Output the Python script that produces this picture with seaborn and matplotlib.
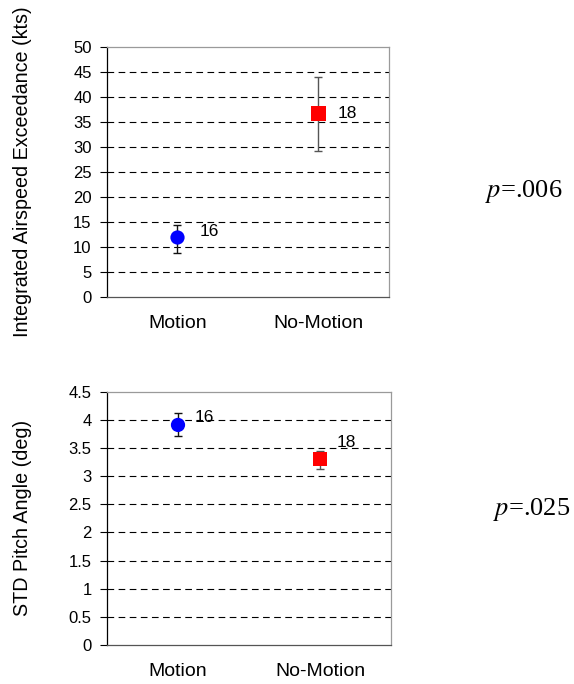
import matplotlib
matplotlib.use("Agg")
import matplotlib.pyplot as plt
import seaborn as sns
import pandas as pd

sns.set_style("white")
plt.rcParams['font.family'] = ['Liberation Sans', 'DejaVu Sans']
plt.rcParams['text.color'] = 'black'
plt.rcParams['axes.labelcolor'] = 'black'
plt.rcParams['xtick.color'] = 'black'
plt.rcParams['ytick.color'] = 'black'

categories = ["Motion", "No-Motion"]
counts = ["16", "18"]
colors = ["#0000FF", "#FF0000"]
markers = ["o", "s"]

airspeed_mean = [11.9, 36.7]
airspeed_lo = [8.7, 29.1]
airspeed_hi = [14.4, 43.9]

pitch_mean = [3.91, 3.30]
pitch_lo = [3.71, 3.13]
pitch_hi = [4.13, 3.45]

p_values = ["=.006", "=.025"]

fig = plt.figure(figsize=(5.74, 6.84), dpi=100)
ax1 = fig.add_axes([0.1864, 0.5658, 0.4913, 0.3655])
ax2 = fig.add_axes([0.1864, 0.0570, 0.4948, 0.3703])


def draw(ax, mean, lo, hi, ymax, ystep, ylabel, label_offsets, yticklabels, label_x):
    df = pd.DataFrame({"cond": categories, "val": mean})
    for i, c in enumerate(categories):
        ax.errorbar([c], [mean[i]], yerr=[[mean[i] - lo[i]], [hi[i] - mean[i]]],
                    fmt="none", ecolor="#111111" if i == 0 else "#555555",
                    elinewidth=1.0, capsize=2.7, capthick=1.0, zorder=3)
    sns.scatterplot(data=df, x="cond", y="val", hue="cond", style="cond",
                    palette=colors, markers=markers, s=105, edgecolor="none",
                    legend=False, ax=ax, zorder=4)
    for i, c in enumerate(categories):
        ax.annotate(counts[i], (i, mean[i]), xytext=label_offsets[i],
                    textcoords="offset points", fontsize=12.5, va="center", ha="left",
                    color="black")
    ax.set_xlim(-0.5, 1.5)
    ax.set_ylim(0, ymax)
    ticks = [round(k * ystep, 2) for k in range(int(round(ymax / ystep)) + 1)]
    ax.set_yticks(ticks)
    ax.set_yticklabels(yticklabels, fontsize=12)
    for t in ticks[1:-1]:
        ax.axhline(t, color="black", lw=0.8, ls=(0, (6, 4)), zorder=1)
    ax.set_xlabel("")
    ax.set_ylabel(ylabel, fontsize=14.2, color="black")
    ax.yaxis.set_label_coords(label_x, 0.5)
    ax.tick_params(axis="x", length=0, pad=13, labelsize=14, labelcolor="black")
    ax.tick_params(axis="y", direction="out", length=5, width=0.8, color="black",
                   pad=6, left=True, labelcolor="black")
    for s in ["top", "right"]:
        ax.spines[s].set_color("#9a9a9a")
        ax.spines[s].set_linewidth(0.9)
    ax.spines["left"].set_color("black")
    ax.spines["left"].set_linewidth(0.9)
    ax.spines["bottom"].set_color("#555555")
    ax.spines["bottom"].set_linewidth(0.9)


draw(ax1, airspeed_mean, airspeed_lo, airspeed_hi, 50, 5,
     "Integrated Airspeed Exceedance (kts)", [(16, 4), (14, 0)],
     [str(v) for v in range(0, 55, 5)], -0.266)
draw(ax2, pitch_mean, pitch_lo, pitch_hi, 4.5, 0.5,
     "STD Pitch Angle (deg)", [(12, 5), (12, 12)],
     ["0", "0.5", "1", "1.5", "2", "2.5", "3", "3.5", "4", "4.5"], -0.264)

fig.text(485 / 574, 1 - 197 / 684, "$p$" + p_values[0], fontsize=19,
         family="Liberation Serif", va="baseline", ha="left", math_fontfamily="stix",
         color="black")
fig.text(493 / 574, 1 - 515 / 684, "$p$" + p_values[1], fontsize=19,
         family="Liberation Serif", va="baseline", ha="left", math_fontfamily="stix",
         color="black")

fig.savefig("out.png", dpi=100)
